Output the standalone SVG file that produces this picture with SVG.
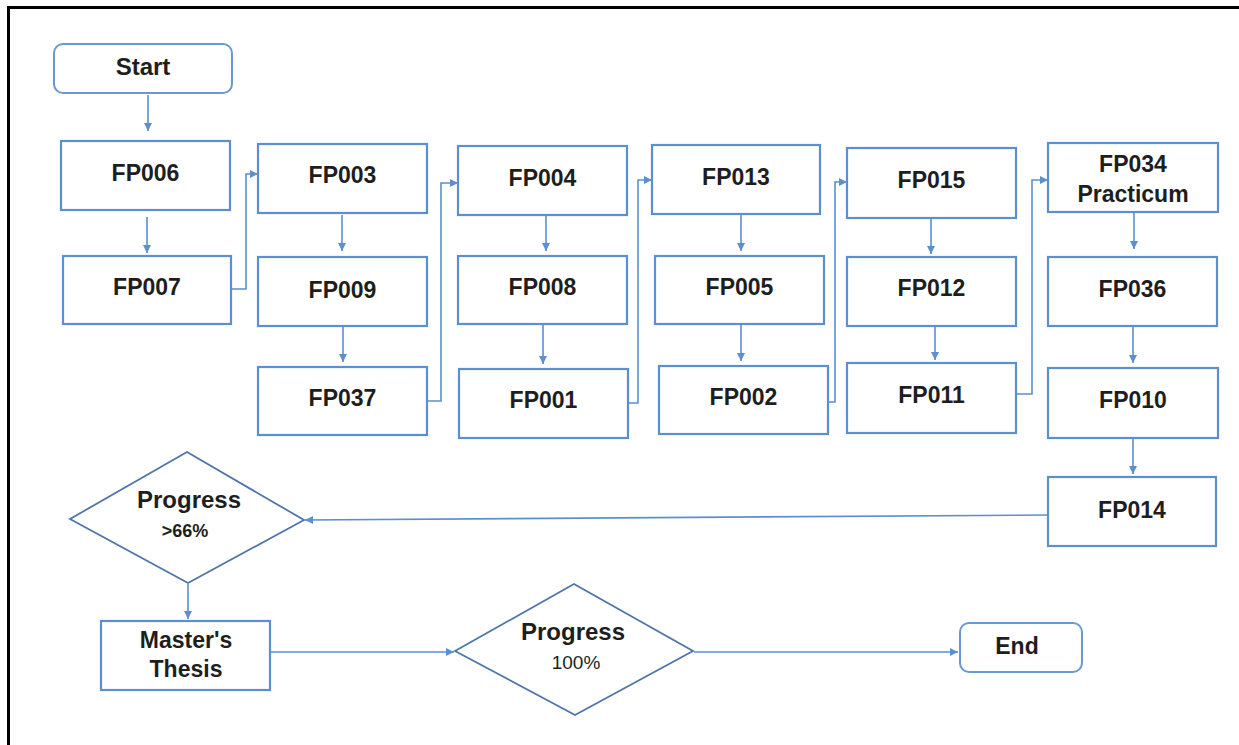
<svg xmlns="http://www.w3.org/2000/svg" width="1239" height="745" viewBox="0 0 1239 745">
<style>
.box{fill:#fff;stroke:#5b8fd0;stroke-width:2.2}
.term{fill:#fff;stroke:#6a98d4;stroke-width:2}
.dia{fill:#fff;stroke:#4f76a8;stroke-width:1.8}
.lbl{font-family:"Liberation Sans",Arial,sans-serif;font-weight:bold;font-size:23px;fill:#1e1e1e;text-anchor:middle;dominant-baseline:central}
.sm{font-size:18px}
.nb{font-weight:normal;font-size:19px}
.con path{fill:none;stroke:#5b8fd0;stroke-width:1.6;marker-end:url(#ah)}
</style>
<defs>
<marker id="ah" markerUnits="userSpaceOnUse" markerWidth="9" markerHeight="9" refX="8" refY="4" orient="auto">
<path d="M0,0 L8,4 L0,8 z" fill="#5b8fd0"/>
</marker>
</defs>
<rect x="0" y="0" width="1239" height="745" fill="#fff"/>
<path d="M8.5,750 V7.5 H1245" fill="none" stroke="#000" stroke-width="3"/>

<g class="con">
<path d="M148,95 V131"/>
<path d="M147,217 V253"/>
<path d="M231,289 H246 V174 H258"/>
<path d="M342,215 V251"/>
<path d="M343,327 V362"/>
<path d="M427,401 H441 V183 H458"/>
<path d="M546,216 V251"/>
<path d="M543,325 V364"/>
<path d="M628,403 H638 V180 H652"/>
<path d="M741,215 V251"/>
<path d="M741,325 V361"/>
<path d="M828,402 H835 V182 H847"/>
<path d="M931,219 V254"/>
<path d="M935,327 V360"/>
<path d="M1016,394 H1032 V180 H1048"/>
<path d="M1134,213 V249"/>
<path d="M1133,327 V363"/>
<path d="M1133,439 V474"/>
<path d="M1048,515 L305,520"/>
<path d="M188,584 V619"/>
<path d="M270,652 H454"/>
<path d="M694,652 H958"/>
</g>

<g id="start"><rect class="term" x="54" y="44" width="178" height="49" rx="9"/><text class="lbl" x="143" y="66" style="font-size:24px">Start</text></g>
<g id="fp006"><rect class="box" x="61" y="141" width="169" height="69"/><text class="lbl" x="145.5" y="173">FP006</text></g>
<g id="fp007"><rect class="box" x="63" y="256" width="168" height="68"/><text class="lbl" x="147" y="287">FP007</text></g>
<g id="fp003"><rect class="box" x="258" y="144" width="169" height="69"/><text class="lbl" x="342.5" y="175">FP003</text></g>
<g id="fp009"><rect class="box" x="258" y="257" width="169" height="69"/><text class="lbl" x="342.5" y="290">FP009</text></g>
<g id="fp037"><rect class="box" x="258" y="367" width="169" height="68"/><text class="lbl" x="342.5" y="398">FP037</text></g>
<g id="fp004"><rect class="box" x="458" y="146" width="169" height="69"/><text class="lbl" x="542.5" y="178">FP004</text></g>
<g id="fp008"><rect class="box" x="458" y="256" width="169" height="68"/><text class="lbl" x="542.5" y="287">FP008</text></g>
<g id="fp001"><rect class="box" x="459" y="369" width="169" height="69"/><text class="lbl" x="543.5" y="400">FP001</text></g>
<g id="fp013"><rect class="box" x="652" y="145" width="168" height="69"/><text class="lbl" x="736" y="177">FP013</text></g>
<g id="fp005"><rect class="box" x="655" y="256" width="169" height="68"/><text class="lbl" x="739.5" y="287">FP005</text></g>
<g id="fp002"><rect class="box" x="659" y="366" width="169" height="68"/><text class="lbl" x="743.5" y="397">FP002</text></g>
<g id="fp015"><rect class="box" x="847" y="148" width="169" height="70"/><text class="lbl" x="931.5" y="180">FP015</text></g>
<g id="fp012"><rect class="box" x="847" y="257" width="169" height="69"/><text class="lbl" x="931.5" y="288">FP012</text></g>
<g id="fp011"><rect class="box" x="847" y="363" width="169" height="70"/><text class="lbl" x="931.5" y="395">FP011</text></g>
<g id="fp034"><rect class="box" x="1048" y="143" width="170" height="69"/><text class="lbl" x="1133" y="164">FP034</text><text class="lbl" x="1133" y="194">Practicum</text></g>
<g id="fp036"><rect class="box" x="1048" y="257" width="169" height="69"/><text class="lbl" x="1132.5" y="289">FP036</text></g>
<g id="fp010"><rect class="box" x="1048" y="368" width="170" height="70"/><text class="lbl" x="1133" y="400">FP010</text></g>
<g id="fp014"><rect class="box" x="1048" y="477" width="168" height="69"/><text class="lbl" x="1132" y="510">FP014</text></g>
<g id="progress66"><polygon class="dia" points="70,519 187,452 304,520 188,583"/><text class="lbl" x="189" y="499" style="font-size:24px">Progress</text><text class="lbl sm" x="185" y="531">&gt;66%</text></g>
<g id="thesis"><rect class="box" x="101" y="621" width="169" height="69"/><text class="lbl" x="186" y="640">Master's</text><text class="lbl" x="186" y="669">Thesis</text></g>
<g id="progress100"><polygon class="dia" points="455,651 574,584 693,651 575,715"/><text class="lbl" x="573" y="631" style="font-size:24px">Progress</text><text class="lbl nb" x="576" y="662">100%</text></g>
<g id="end"><rect class="term" x="960" y="623" width="122" height="49" rx="9"/><text class="lbl" x="1017" y="646">End</text></g>
</svg>
